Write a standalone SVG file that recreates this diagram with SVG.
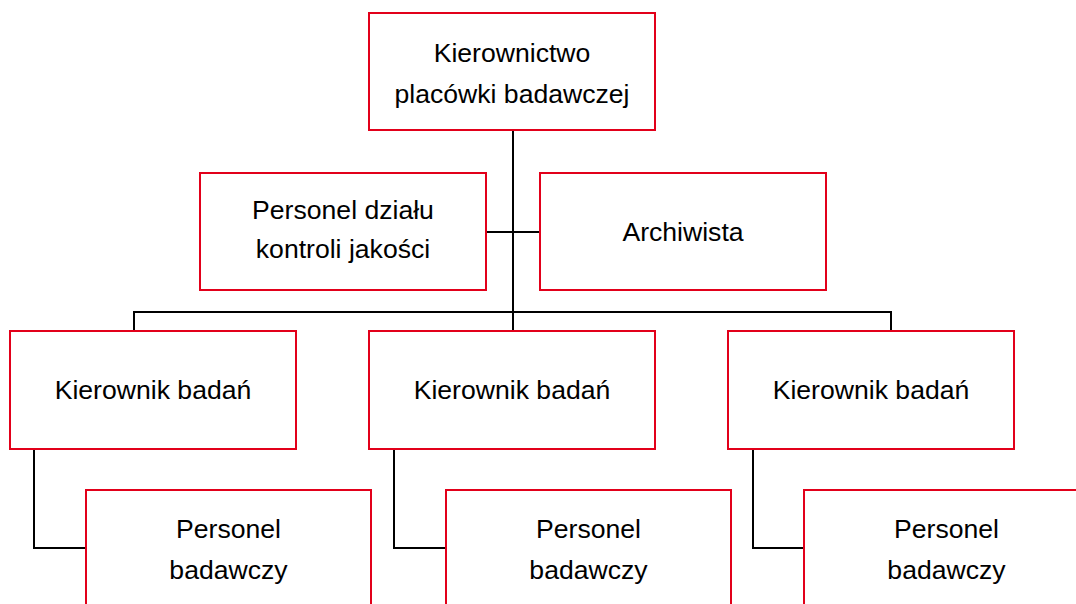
<svg xmlns="http://www.w3.org/2000/svg" width="1076" height="604" viewBox="0 0 1076 604">
<style>
.box{fill:#fff;stroke:#e2001a;stroke-width:2}
.t{font-family:"Liberation Sans",Arial,sans-serif;font-size:26.6px;fill:#000;text-anchor:middle}
.c{fill:none;stroke:#000;stroke-width:2}
</style>
<rect width="1076" height="604" fill="#fff"/>
<g id="connectors">
<path class="c" d="M513 130V331"/>
<path class="c" d="M486 232H540"/>
<path class="c" d="M134 331V312H891V331"/>
<path class="c" d="M34 449V548H86"/>
<path class="c" d="M394 449V548H446"/>
<path class="c" d="M753 449V548H804"/>
</g>
<g id="n-kierownictwo">
<rect class="box" x="369" y="13" width="286" height="117"/>
<text class="t" x="512" y="62">Kierownictwo</text>
<text class="t" x="512" y="103">placówki badawczej</text>
</g>
<g id="n-qa">
<rect class="box" x="200" y="173" width="286" height="117"/>
<text class="t" x="343" y="219">Personel działu</text>
<text class="t" x="343" y="258">kontroli jakości</text>
</g>
<g id="n-archiwista">
<rect class="box" x="540" y="173" width="286" height="117"/>
<text class="t" x="683" y="241">Archiwista</text>
</g>
<g id="n-kb1">
<rect class="box" x="10" y="331" width="286" height="118"/>
<text class="t" x="153" y="399">Kierownik badań</text>
</g>
<g id="n-kb2">
<rect class="box" x="369" y="331" width="286" height="118"/>
<text class="t" x="512" y="399">Kierownik badań</text>
</g>
<g id="n-kb3">
<rect class="box" x="728" y="331" width="286" height="118"/>
<text class="t" x="871" y="399">Kierownik badań</text>
</g>
<g id="n-pb1">
<rect class="box" x="86" y="490" width="285" height="130"/>
<text class="t" x="228.5" y="538">Personel</text>
<text class="t" x="228.5" y="579">badawczy</text>
</g>
<g id="n-pb2">
<rect class="box" x="446" y="490" width="285" height="130"/>
<text class="t" x="588.5" y="538">Personel</text>
<text class="t" x="588.5" y="579">badawczy</text>
</g>
<g id="n-pb3">
<rect class="box" x="804" y="490" width="285" height="130"/>
<text class="t" x="946.5" y="538">Personel</text>
<text class="t" x="946.5" y="579">badawczy</text>
</g>
</svg>
